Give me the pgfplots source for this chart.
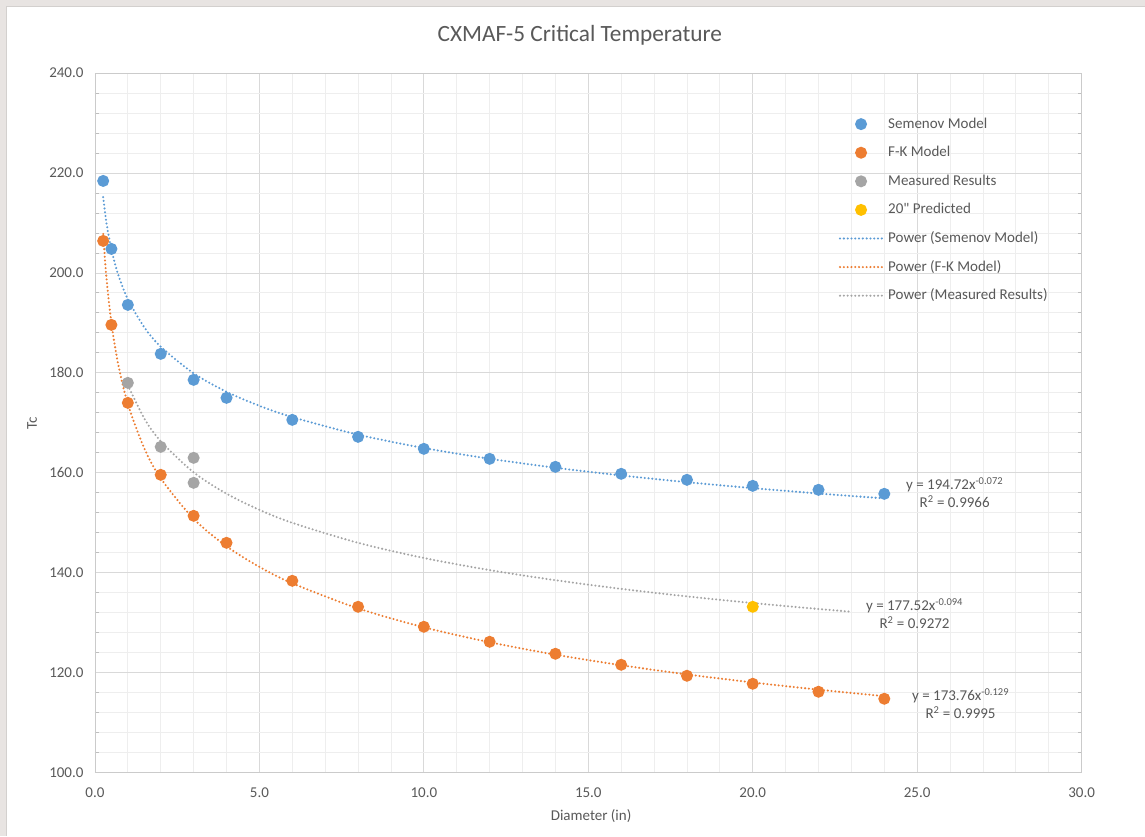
\documentclass[border=0pt]{standalone}
\usepackage{fontspec}
\setmainfont{Carlito}
\newfontfamily\rawcarlito{Carlito}[Ligatures=TeXOff]
\usepackage{pgfplots}
\pgfplotsset{compat=1.18}
\definecolor{cblue}{HTML}{5B9BD5}
\definecolor{corange}{HTML}{ED7D31}
\definecolor{cgray}{HTML}{A5A5A5}
\definecolor{cyellow}{HTML}{FFC000}
\definecolor{ctext}{HTML}{595959}
\definecolor{cmajor}{HTML}{D9D9D9}
\definecolor{cminor}{HTML}{EEEEEE}
\definecolor{cframe}{HTML}{E8E4E2}
\begin{document}
\begin{tikzpicture}
\fill[cframe] (-95bp,-63bp) rectangle (1050bp,773bp);
\fill[white] (-89bp,-63bp) rectangle (1050bp,767bp);
\draw[cframe!80!gray, line width=0.8bp] (-89bp,-63bp) -- (-89bp,767bp) -- (1050bp,767bp);
\useasboundingbox (-95bp,-63bp) rectangle (1050bp,773bp);
\begin{axis}[
  at={(0,0)}, anchor=origin,
  scale only axis, width=987bp, height=700bp,
  xmin=0, xmax=30, ymin=100, ymax=240,
  xtick={0,5,...,30}, ytick={100,120,...,240},
  minor x tick num=4, minor y tick num=4,
  grid=both,
  major grid style={cmajor, line width=0.8bp},
  minor grid style={cminor, line width=0.8bp},
  axis line style={cmajor!85!gray, line width=0.8bp},
  tick style={draw=none},
  minor y tick style={draw=cmajor!70!gray, line width=0.8bp},
  minor tick length=4bp,
  tick align=inside,
  /pgf/number format/.cd, fixed, fixed zerofill, precision=1, assume math mode=true,
  /pgfplots/.cd,
  ticklabel style={font=\fontsize{15bp}{18bp}\selectfont, text=ctext},
  yticklabel style={xshift=-8bp},
  xticklabel style={yshift=-12bp},
  every axis plot/.append style={line width=2.3bp},
  legend image code/.code={\draw[mark repeat=2,mark phase=2,#1] plot coordinates {(0bp,0bp) (21bp,0bp) (42bp,0bp)};},
  legend cell align=left,
  legend style={at={(rel axis cs:0.7538,0.9386)}, anchor=north west, draw=none, fill=none,
     font=\fontsize{15bp}{17bp}\selectfont, text=ctext, inner sep=0pt, row sep=12.6bp,
     nodes={inner xsep=5bp, inner ysep=1bp, text height=11bp, text depth=3bp}},
  clip=false,
]
\addplot[only marks, mark=*, mark size=4.8bp, color=cblue] coordinates {
 (0.25,218.4) (0.5,204.8) (1,193.6) (2,183.8) (3,178.6) (4,175.0) (6,170.6) (8,167.2)
 (10,164.8) (12,162.8) (14,161.2) (16,159.8) (18,158.6) (20,157.4) (22,156.6) (24,155.8)};
\addlegendentry{Semenov Model}
\addplot[only marks, mark=*, mark size=4.8bp, color=corange] coordinates {
 (0.25,206.4) (0.5,189.6) (1,174.0) (2,159.6) (3,151.4) (4,146.0) (6,138.4) (8,133.2)
 (10,129.2) (12,126.2) (14,123.8) (16,121.6) (18,119.4) (20,117.8) (22,116.2) (24,114.8)};
\addlegendentry{F-K Model}
\addplot[only marks, mark=*, mark size=4.8bp, color=cgray] coordinates {
 (1,178.0) (2,165.2) (3,163.0) (3,158.0)};
\addlegendentry{Measured Results}
\addplot[only marks, mark=*, mark size=4.8bp, color=cyellow] coordinates {(20,133.2)};
\addlegendentry{{\rawcarlito 20\symbol{34} Predicted}}
\addplot[cblue, smooth, line cap=round, dash pattern=on 0bp off 3.8bp] coordinates {
 (0.25,215.16) (0.35,210.01) (0.5,204.68) (0.7,199.78) (1,194.72) (1.5,189.12) (2,185.24)
 (3,179.91) (4,176.22) (5,173.41) (6,171.15) (8,167.64) (10,164.97) (12,162.82) (14,161.02)
 (16,159.48) (18,158.13) (20,156.94) (22,155.87) (24,154.89)};
\addlegendentry{Power (Semenov Model)}
\addplot[corange, smooth, line cap=round, dash pattern=on 0bp off 3.8bp] coordinates {
 (0.25,207.79) (0.35,198.96) (0.5,190.01) (0.7,181.94) (1,173.76) (1.5,164.91) (2,158.90)
 (3,150.80) (4,145.31) (5,141.18) (6,137.90) (8,132.88) (10,129.10) (12,126.11) (14,123.62)
 (16,121.51) (18,119.68) (20,118.06) (22,116.62) (24,115.32)};
\addlegendentry{Power (F-K Model)}
\addplot[cgray, smooth, line cap=round, dash pattern=on 0bp off 3.8bp] coordinates {
 (1,177.52) (1.5,170.88) (2,166.32) (3,160.10) (4,155.83) (5,152.60) (6,150.00) (8,146.00)
 (10,142.97) (12,140.54) (14,138.52) (16,136.79) (18,135.28) (20,133.95) (22,132.76) (23,132.21)};
\addlegendentry{Power (Measured Results)}
\node[font=\fontsize{15bp}{17bp}\selectfont, text=ctext, align=center] at (axis cs:26.14,156.0)
  {y = 194.72x\textsuperscript{-0.072}\\[1bp] R\textsuperscript{2} = 0.9966};
\node[font=\fontsize{15bp}{17bp}\selectfont, text=ctext, align=center] at (axis cs:24.92,131.8)
  {y = 177.52x\textsuperscript{-0.094}\\[1bp] R\textsuperscript{2} = 0.9272};
\node[font=\fontsize{15bp}{17bp}\selectfont, text=ctext, align=center] at (axis cs:26.32,113.8)
  {y = 173.76x\textsuperscript{-0.129}\\[1bp] R\textsuperscript{2} = 0.9995};
\node[font=\fontsize{23.3bp}{27bp}\selectfont, text=ctext] at (rel axis cs:0.4914,1.054) {CXMAF-5 Critical Temperature};
\node[font=\fontsize{15bp}{18bp}\selectfont, text=ctext] at (rel axis cs:0.5028,-0.0614) {Diameter (in)};
\node[font=\fontsize{15bp}{18bp}\selectfont, text=ctext, rotate=90] at (rel axis cs:-0.0638,0.5) {Tc};
\end{axis}
\end{tikzpicture}
\end{document}
